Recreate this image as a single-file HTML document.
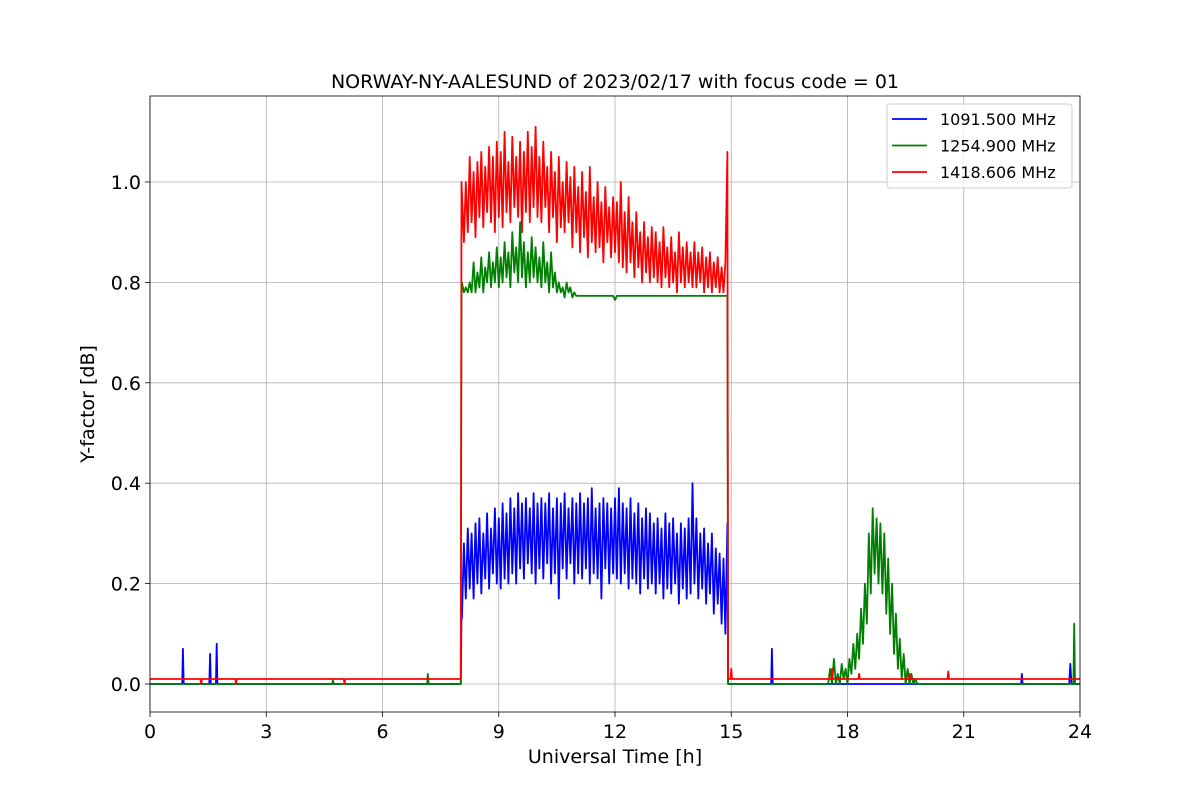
<!DOCTYPE html>
<html><head><meta charset="utf-8"><style>
body{margin:0;background:#fff;}
svg{display:block;font-family:"DejaVu Sans","Liberation Sans",sans-serif;}
</style></head><body>
<svg id="chart" width="1200" height="800" xmlns="http://www.w3.org/2000/svg"></svg>
<script>
const xTicks=[0,3,6,9,12,15,18,21,24];
const yTicks=[0.0,0.2,0.4,0.6,0.8,1.0];
const yTickLabels=["0.0","0.2","0.4","0.6","0.8","1.0"];
const seriesNames=["1091.500 MHz","1254.900 MHz","1418.606 MHz"];
const noiseStart=8.05, noiseStep=0.05;
const bumpStart=17.5, bumpStep=0.05;
const blueBeforeT=[0,0.83,0.85,0.87,1.53,1.55,1.57,1.7,1.72,1.74,8.02,8.04];
const blueBeforeV=[0,0,0.07,0,0,0.06,0,0,0.08,0,0,0.13];
const blueNoise=[0.13,0.28,0.17,0.31,0.19,0.3,0.17,0.32,0.2,0.33,0.18,0.3,0.21,0.34,0.19,0.31,0.22,0.35,0.2,0.33,
0.19,0.36,0.21,0.34,0.2,0.37,0.22,0.35,0.2,0.38,0.23,0.36,0.21,0.37,0.24,0.35,0.22,0.38,0.2,0.36,
0.23,0.37,0.21,0.36,0.24,0.38,0.2,0.35,0.22,0.37,0.17,0.36,0.23,0.38,0.21,0.35,0.24,0.37,0.2,0.36,
0.22,0.38,0.21,0.36,0.23,0.37,0.2,0.39,0.22,0.35,0.21,0.36,0.17,0.37,0.23,0.36,0.2,0.35,0.22,0.37,
0.21,0.39,0.2,0.36,0.22,0.35,0.19,0.37,0.21,0.34,0.2,0.36,0.18,0.33,0.21,0.35,0.19,0.34,0.2,0.32,
0.18,0.33,0.2,0.31,0.17,0.34,0.19,0.32,0.18,0.33,0.2,0.3,0.16,0.32,0.19,0.31,0.17,0.33,0.18,0.4,
0.2,0.33,0.17,0.3,0.19,0.31,0.16,0.28,0.18,0.3,0.14,0.27,0.16,0.26,0.12,0.25,0.1,0.32];
const blueAfterT=[14.92,14.95,16.03,16.05,16.07,22.48,22.5,22.52,23.72,23.75,23.78,24];
const blueAfterV=[0,0,0,0.07,0,0,0.02,0,0,0.04,0,0];
const greenBeforeT=[0,4.7,4.72,4.74,7.15,7.17,7.19,8.02,8.04];
const greenBeforeV=[0,0,0.008,0,0,0.02,0,0,0.8];
const greenNoise=[0.8,0.78,0.79,0.78,0.8,0.78,0.84,0.78,0.82,0.79,0.85,0.78,0.83,0.8,0.86,0.79,0.84,0.8,0.87,0.79,
0.85,0.8,0.88,0.81,0.86,0.79,0.9,0.82,0.87,0.8,0.92,0.81,0.88,0.79,0.86,0.8,0.89,0.81,0.87,0.8,
0.85,0.79,0.88,0.8,0.84,0.78,0.86,0.79,0.82,0.78,0.8,0.78,0.79,0.77,0.8,0.78,0.79,0.77,0.78,0.773];
const greenFlatT=[11.05,11.95,12.0,12.05,14.9,14.92,14.95];
const greenFlatV=[0.773,0.773,0.765,0.773,0.773,0,0];
const greenBump=[0,0.03,0,0.05,0,0.02,0,0.04,0.01,0.03,0,0.05,0.02,0.08,0.03,0.1,0.05,0.15,0.08,0.2,0.12,0.3,0.18,0.35,0.22,0.33,0.2,0.32,0.18,0.3,0.14,0.25,0.1,0.2,0.06,0.14,0.03,0.09,0.01,0.06,0,0.03,0,0.02,0,0.01,0];
const greenAfterT=[20.5,23.83,23.85,23.87,24];
const greenAfterV=[0,0,0.12,0,0];
const redBeforeT=[0,1.3,1.32,1.34,2.2,2.22,2.24,5.0,5.02,5.04,8.02,8.04];
const redBeforeV=[0.01,0.01,0,0.01,0.01,0,0.01,0.01,0,0.01,0.01,1.0];
const redNoise=[0.98,0.88,1.0,0.9,1.05,0.92,1.02,0.89,1.04,0.93,1.06,0.91,1.03,0.94,1.07,0.92,1.05,0.9,1.08,0.93,
1.06,0.91,1.1,0.94,1.04,0.92,1.09,0.95,1.05,0.93,1.08,0.9,1.06,0.94,1.1,0.92,1.07,0.95,1.11,0.93,
1.05,0.92,1.08,0.95,1.03,0.9,1.06,0.93,1.02,0.88,1.05,0.91,1.0,0.9,1.04,0.92,1.01,0.87,1.03,0.9,
0.99,0.86,1.02,0.89,0.98,0.85,1.03,0.88,0.97,0.86,1.0,0.87,0.96,0.84,0.99,0.88,0.95,0.85,0.97,0.86,
0.96,0.84,1.0,0.83,0.94,0.82,0.97,0.84,0.92,0.81,0.94,0.83,0.9,0.8,0.92,0.82,0.89,0.8,0.91,0.81,
0.9,0.8,0.88,0.79,0.91,0.81,0.87,0.79,0.89,0.8,0.86,0.78,0.9,0.8,0.87,0.79,0.88,0.8,0.86,0.79,
0.88,0.79,0.86,0.8,0.87,0.78,0.85,0.79,0.86,0.78,0.84,0.79,0.85,0.78,0.83,0.78,0.84,1.06];
const redAfterT=[14.92,14.95,14.98,15.0,15.02,17.58,17.6,17.62,18.28,18.3,18.32,19.58,19.6,19.62,20.58,20.6,20.62,24];
const redAfterV=[0.01,0.01,0.01,0.03,0.01,0.01,0.03,0.01,0.01,0.02,0.01,0.01,0.02,0.01,0.01,0.025,0.01,0.01];

const L=150,R=1080,T=96,B=712,xMin=0,xMax=24,yMin=-0.0558,yMax=1.1713;
const sx=v=>L+(v-xMin)/(xMax-xMin)*(R-L);
const sy=v=>B-(v-yMin)/(yMax-yMin)*(B-T);
const svg=document.getElementById('chart');
const NS="http://www.w3.org/2000/svg";
function mk(tag,attrs,parent){const e=document.createElementNS(NS,tag);for(const k in attrs)e.setAttribute(k,attrs[k]);(parent||svg).appendChild(e);return e;}

const grid=mk('g',{});


xTicks.forEach(t=>{
  const l=mk('line',{x1:sx(t),x2:sx(t),y1:T,y2:B,stroke:'#b0b0b0','stroke-width':0.8},grid);
  
  
  const tk=mk('line',{x1:sx(t),x2:sx(t),y1:B,y2:B+5,stroke:'#000','stroke-width':0.8});
  
  
  const tx=mk('text',{x:sx(t),y:B+26,'text-anchor':'middle','font-size':19});
  tx.textContent=t;
  
  
});
yTicks.forEach((t,i)=>{
  const l=mk('line',{x1:L,x2:R,y1:sy(t),y2:sy(t),stroke:'#b0b0b0','stroke-width':0.8},grid);
  
  
  const tk=mk('line',{x1:L-5,x2:L,y1:sy(t),y2:sy(t),stroke:'#000','stroke-width':0.8});
  
  
  const tx=mk('text',{x:L-9,y:sy(t)+7,'text-anchor':'end','font-size':19});
  tx.textContent=yTickLabels[i];
  
  
});

function pairs(ts,vs){return ts.map((t,i)=>[t,vs[i]]);}
function block(start,step,vs){return vs.map((v,i)=>[start+i*step,v]);}
function toPts(list){return list.map(p=>sx(p[0]).toFixed(1)+','+sy(p[1]).toFixed(1)).join(' ');}
const cp=mk('clipPath',{id:'pc'});mk('rect',{x:L,y:T,width:R-L,height:B-T},cp);
const series=[
 ['#0000ff',toPts([...pairs(blueBeforeT,blueBeforeV),...block(noiseStart,noiseStep,blueNoise),...pairs(blueAfterT,blueAfterV)]),'series-1091-mhz'],
 ['#008000',toPts([...pairs(greenBeforeT,greenBeforeV),...block(noiseStart,noiseStep,greenNoise),...pairs(greenFlatT,greenFlatV),...block(bumpStart,bumpStep,greenBump),...pairs(greenAfterT,greenAfterV)]),'series-1254-mhz'],
 ['#ff0000',toPts([...pairs(redBeforeT,redBeforeV),...block(noiseStart,noiseStep,redNoise),...pairs(redAfterT,redAfterV)]),'series-1418-mhz']];
series.forEach(s=>{
  const p=mk('polyline',{points:s[1],fill:'none',stroke:s[0],'stroke-width':1.8,'stroke-linejoin':'round','clip-path':'url(#pc)'});
  
  
});
const frame=mk('rect',{x:L,y:T,width:R-L,height:B-T,fill:'none',stroke:'#000','stroke-width':0.8});



const title=mk('text',{x:615,y:88,'text-anchor':'middle','font-size':19});
title.textContent='NORWAY-NY-AALESUND of 2023/02/17 with focus code = 01';


const xl=mk('text',{x:615,y:763,'text-anchor':'middle','font-size':19});
xl.textContent='Universal Time [h]';


const yl=mk('text',{x:0,y:0,'text-anchor':'middle','font-size':19,transform:'translate(94,404) rotate(-90)'});
yl.textContent='Y-factor [dB]';



const lg=mk('g',{});


mk('rect',{x:887,y:104,width:185,height:84,rx:3,fill:'#fff','fill-opacity':0.8,stroke:'#ccc'},lg);
series.forEach((s,i)=>{
  const y=119+i*26.5;
  const ln=mk('line',{x1:892,x2:927,y1:y,y2:y,stroke:s[0],'stroke-width':1.8},lg);
  
  
  const tx=mk('text',{x:940,y:y+6,'font-size':16},lg);
  tx.textContent=seriesNames[i];
  
  
});
</script>
</body></html>
